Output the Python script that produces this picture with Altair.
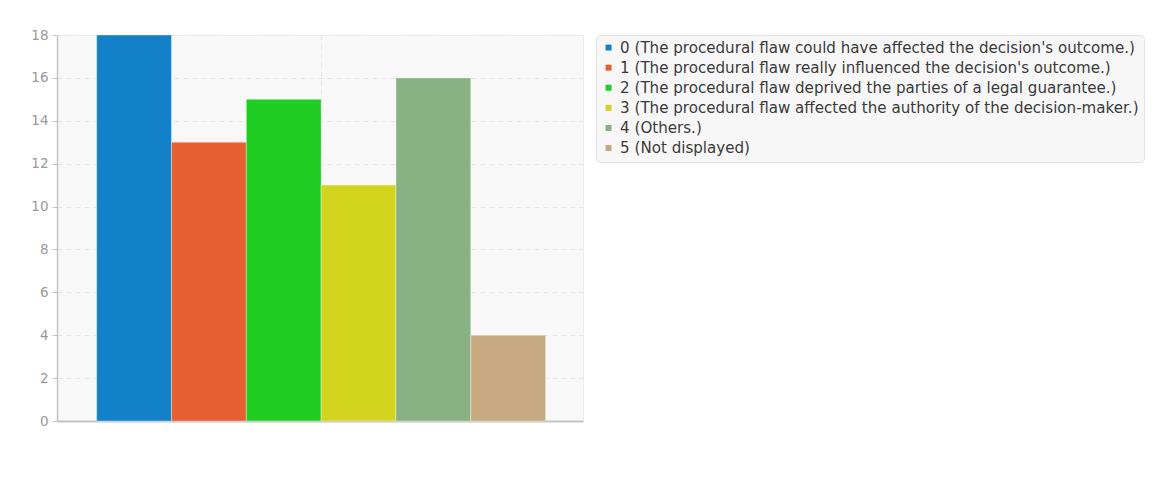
import altair as alt
import pandas as pd

codes = ["0", "1", "2", "3", "4", "5"]
labels = [
    "0 (The procedural flaw could have affected the decision's outcome.)",
    "1 (The procedural flaw really influenced the decision's outcome.)",
    "2 (The procedural flaw deprived the parties of a legal guarantee.)",
    "3 (The procedural flaw affected the authority of the decision-maker.)",
    "4 (Others.)",
    "5 (Not displayed)",
]
counts = [18, 13, 15, 11, 16, 4]
colors = ["#1381c9", "#e65f33", "#20cd23", "#d2d41e", "#88b283", "#c6a881"]

df = pd.DataFrame({
    "idx": list(range(len(codes))),
    "label": labels,
    "count": counts,
})
df["x0"] = df["idx"] - 0.5
df["x1"] = df["idx"] + 0.5

FONT = "DejaVu Sans"

bars = alt.Chart(df).mark_bar(stroke="#ffffff", strokeWidth=0.6, strokeOpacity=0.6).encode(
    x=alt.X(
        "x0:Q",
        scale=alt.Scale(domain=[-1.03, 6.0], nice=False, zero=False),
        axis=alt.Axis(
            values=[2.5],
            labels=False,
            ticks=False,
            title=None,
            grid=True,
            gridDash=[5, 4],
            gridColor="#e6e6e6",
            domain=True,
            domainColor="#c4c4c4",
            domainWidth=2,
        ),
    ),
    x2="x1:Q",
    y=alt.Y(
        "count:Q",
        scale=alt.Scale(domain=[0, 18], nice=False),
        axis=alt.Axis(
            values=list(range(0, 19, 2)),
            title=None,
            grid=True,
            gridDash=[5, 4],
            gridColor="#e6e6e6",
            domain=True,
            domainColor="#c4c4c4",
            domainWidth=1.5,
            tickColor="#c4c4c4",
            tickSize=5,
            labelColor="#9a9a9a",
            labelFontSize=13.5,
            labelFont=FONT,
            labelPadding=4,
        ),
    ),
    y2=alt.datum(0),
    color=alt.Color(
        "label:N",
        sort=labels,
        scale=alt.Scale(domain=labels, range=colors),
        legend=alt.Legend(
            title=None,
            orient="none",
            legendX=539,
            legendY=0,
            symbolType="square",
            symbolSize=36,
            symbolStrokeWidth=0,
            labelFont=FONT,
            labelFontSize=15.1,
            labelColor="#3a3a3a",
            labelLimit=0,
            rowPadding=4.1,
            padding=5,
            fillColor="#f7f7f7",
            strokeColor="#e2e2e2",
            cornerRadius=4,
            symbolOffset=0,
            labelOffset=4,
        ),
    ),
)

chart = bars.properties(
    width=526,
    height=386,
    autosize=alt.AutoSizeParams(type="none"),
    padding={"left": 57, "top": 35, "right": 574, "bottom": 61},
    background="#ffffff",
).configure_view(
    fill="#f8f8f8",
    stroke="#ececec",
)

chart.save("out.html", embed_options={"renderer": "svg", "actions": False})
